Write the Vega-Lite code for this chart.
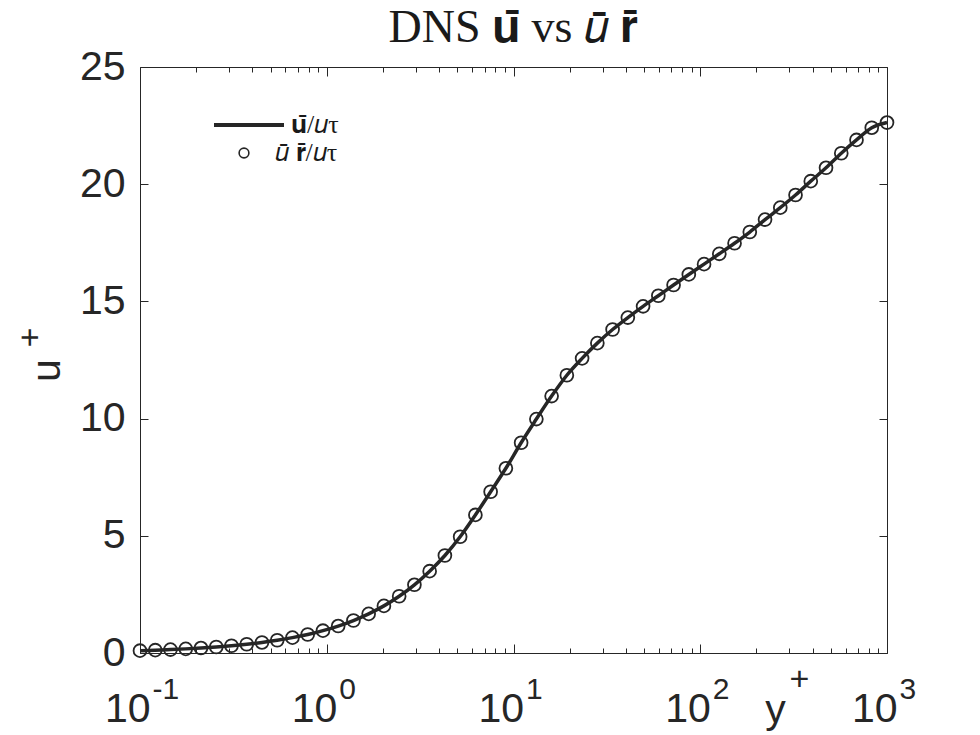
{
  "$schema": "https://vega.github.io/schema/vega-lite/v6.json",
  "autosize": "none",
  "width": 747,
  "height": 586,
  "padding": {"left": 140, "top": 67, "right": 93, "bottom": 82},
  "background": "white",
  "title": {
    "text": "DNS 𝐮̄ vs 𝑢̄ 𝐫̄",
    "font": "Liberation Serif",
    "fontSize": 46,
    "fontWeight": "normal",
    "color": "#1a1a1a",
    "anchor": "middle",
    "offset": -6
  },
  "data": {
    "values": [
      {"y": 0.1, "u": 0.1},
      {"y": 0.1207, "u": 0.12},
      {"y": 0.1456, "u": 0.146},
      {"y": 0.1758, "u": 0.176},
      {"y": 0.2121, "u": 0.212},
      {"y": 0.256, "u": 0.256},
      {"y": 0.3089, "u": 0.309},
      {"y": 0.3728, "u": 0.373},
      {"y": 0.4499, "u": 0.45},
      {"y": 0.5429, "u": 0.543},
      {"y": 0.6551, "u": 0.655},
      {"y": 0.7906, "u": 0.79},
      {"y": 0.9541, "u": 0.953},
      {"y": 1.1514, "u": 1.15},
      {"y": 1.3895, "u": 1.386},
      {"y": 1.6768, "u": 1.67},
      {"y": 2.0236, "u": 2.01},
      {"y": 2.4421, "u": 2.42},
      {"y": 2.9471, "u": 2.91},
      {"y": 3.5565, "u": 3.49},
      {"y": 4.2919, "u": 4.16},
      {"y": 5.1795, "u": 4.96},
      {"y": 6.2506, "u": 5.89},
      {"y": 7.5431, "u": 6.88},
      {"y": 9.1029, "u": 7.88},
      {"y": 10.985, "u": 8.97},
      {"y": 13.257, "u": 9.98},
      {"y": 15.998, "u": 10.96},
      {"y": 19.307, "u": 11.85},
      {"y": 23.3, "u": 12.57},
      {"y": 28.118, "u": 13.22},
      {"y": 33.932, "u": 13.8},
      {"y": 40.949, "u": 14.31},
      {"y": 49.417, "u": 14.79},
      {"y": 59.636, "u": 15.24},
      {"y": 71.969, "u": 15.7},
      {"y": 86.851, "u": 16.15},
      {"y": 104.81, "u": 16.59},
      {"y": 126.49, "u": 17.03},
      {"y": 152.64, "u": 17.48},
      {"y": 184.21, "u": 17.96},
      {"y": 222.3, "u": 18.49},
      {"y": 268.27, "u": 19.0},
      {"y": 323.75, "u": 19.54},
      {"y": 390.7, "u": 20.13},
      {"y": 471.49, "u": 20.7},
      {"y": 568.99, "u": 21.32},
      {"y": 686.65, "u": 21.89},
      {"y": 828.64, "u": 22.41},
      {"y": 1000, "u": 22.63}
    ]
  },
  "layer": [
    {
      "mark": {"type": "line", "strokeWidth": 3.5, "interpolate": "monotone"},
      "encoding": {
        "x": {
          "field": "y", "type": "quantitative",
          "scale": {"type": "log", "domain": [0.1, 1000]},
          "axis": {
            "orient": "bottom",
            "values": [0.1,0.2,0.3,0.4,0.5,0.6,0.7,0.8,0.9,1,2,3,4,5,6,7,8,9,10,20,30,40,50,60,70,80,90,100,200,300,400,500,600,700,800,900,1000],
            "labelExpr": "indexof([0.1,1,10,100,1000], datum.value) >= 0 ? '10' : ''",
            "tickSize": {"condition": {"test": "indexof([0.1,1,10,100,1000], datum.value) >= 0", "value": -9}, "value": -5},
            "labelPadding": 77,
            "labelBaseline": "alphabetic",
            "labelAlign": "right",
            "labelOffset": 10,
            "labelFontSize": 41,
            "labelOverlap": false,
            "labelFlush": false,
            "title": "y",
            "titleFontSize": 41,
            "titleX": 635,
            "titleY": 69,
            "titleBaseline": "alphabetic",
            "titleAlign": "center"
          }
        },
        "y": {
          "field": "u", "type": "quantitative",
          "scale": {"domain": [0, 25], "nice": false},
          "axis": {
            "orient": "left",
            "values": [0, 5, 10, 15, 20, 25],
            "tickSize": -8,
            "labelPadding": 23,
            "labelFontSize": 41,
            "title": "u",
            "titleFontSize": 41,
            "titleAngle": -90,
            "titleX": -93,
            "titleY": 303,
            "titleBaseline": "middle",
            "titleAlign": "center"
          }
        },
        "stroke": {
          "datum": "𝐮̄/𝑢τ",
          "scale": {"range": ["#262626"]},
          "legend": {
            "orient": "none",
            "legendX": 72,
            "legendY": 21,
            "title": null,
            "symbolSize": 4900,
            "symbolStrokeWidth": 4,
            "labelOffset": 5,
            "labelFont": "Liberation Serif",
            "labelFontSize": 26,
            "labelColor": "#1a1a1a",
            "padding": 0
          }
        }
      }
    },
    {
      "mark": {"type": "point", "shape": "circle", "filled": false, "size": 165, "strokeWidth": 1.8, "color": "#262626", "opacity": 1},
      "encoding": {
        "x": {
          "field": "y", "type": "quantitative",
          "scale": {"type": "log", "domain": [0.1, 1000]},
          "axis": {
            "orient": "bottom",
            "values": [0.1, 1, 10, 100, 1000],
            "labelExpr": "datum.value == 0.1 ? '-1' : datum.value == 1 ? '0' : datum.value == 10 ? '1' : datum.value == 100 ? '2' : '3'",
            "domain": false,
            "tickSize": -9,
            "tickOpacity": 0,
            "labelPadding": 54,
            "labelBaseline": "alphabetic",
            "labelAlign": "left",
            "labelOffset": 12,
            "labelFontSize": 30,
            "labelOverlap": false,
            "labelFlush": false,
            "title": "+",
            "titleFontSize": 34,
            "titleX": 659,
            "titleY": 36,
            "titleBaseline": "alphabetic",
            "titleAlign": "center"
          }
        },
        "y": {
          "field": "u", "type": "quantitative",
          "scale": {"domain": [0, 25], "nice": false},
          "axis": {
            "orient": "right",
            "values": [0, 5, 10, 15, 20, 25],
            "labels": false,
            "tickSize": -8,
            "title": null
          }
        },
        "shape": {
          "datum": "𝑢̄ 𝐫̄/𝑢τ",
          "scale": {"range": ["circle"]},
          "legend": {
            "orient": "none",
            "legendX": 91,
            "legendY": 73,
            "title": null,
            "symbolSize": 95,
            "symbolStrokeWidth": 1.6,
            "symbolStrokeColor": "#262626",
            "symbolFillColor": "transparent",
            "symbolOpacity": 1,
            "labelOffset": 18,
            "labelFont": "Liberation Serif",
            "labelFontSize": 26,
            "labelColor": "#1a1a1a",
            "padding": 0
          }
        }
      }
    },
    {
      "mark": {"type": "line", "strokeOpacity": 0},
      "encoding": {
        "x": {
          "field": "y", "type": "quantitative",
          "scale": {"type": "log", "domain": [0.1, 1000]},
          "axis": {
            "orient": "top",
            "values": [0.1,0.2,0.3,0.4,0.5,0.6,0.7,0.8,0.9,1,2,3,4,5,6,7,8,9,10,20,30,40,50,60,70,80,90,100,200,300,400,500,600,700,800,900,1000],
            "labels": false,
            "tickSize": {"condition": {"test": "indexof([0.1,1,10,100,1000], datum.value) >= 0", "value": -9}, "value": -5},
            "title": null
          }
        },
        "y": {
          "field": "u", "type": "quantitative",
          "scale": {"domain": [0, 25], "nice": false},
          "axis": {
            "orient": "left",
            "values": [0, 25],
            "labels": false,
            "ticks": false,
            "domain": false,
            "title": "+",
            "titleFontSize": 34,
            "titleAngle": -90,
            "titleX": -110,
            "titleY": 270,
            "titleBaseline": "middle",
            "titleAlign": "center"
          }
        }
      }
    }
  ],
  "resolve": {"axis": {"x": "independent", "y": "independent"}},
  "config": {
    "view": {"stroke": null},
    "axis": {
      "grid": false,
      "domainColor": "#262626",
      "domainWidth": 1,
      "tickColor": "#262626",
      "tickWidth": 1,
      "labelColor": "#262626",
      "titleColor": "#262626",
      "labelFont": "Liberation Sans",
      "titleFont": "Liberation Sans",
      "titleFontWeight": "normal"
    }
  }
}
